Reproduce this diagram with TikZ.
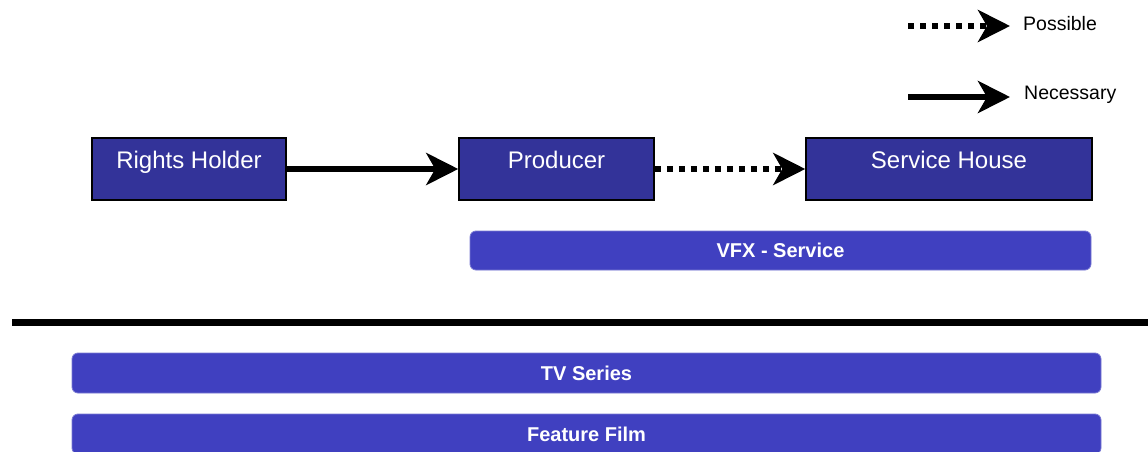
\documentclass[tikz,border=0pt]{standalone}
\usepackage{fontspec}
\setmainfont{Liberation Sans}
\usetikzlibrary{arrows.meta}
\definecolor{boxblue}{HTML}{333399}
\definecolor{barblue}{HTML}{4040C0}
\tikzset{
  actor/.style={draw=black, line width=1.5pt, fill=boxblue, text=white, inner sep=0pt,
    text height=30.5pt, text depth=31.5pt, font=\fontsize{24}{28}\selectfont},
  bar/.style={fill=barblue, draw=barblue!70!white, line width=0.8pt, rounded corners=6pt, text=white, inner sep=0pt,
    font=\bfseries\fontsize{20}{24}\selectfont},
  bigtip/.style={-{Stealth[length=32pt,width=32pt,inset=9pt]}},
  needarrow/.style={bigtip, line width=6pt},
  possarrow/.style={bigtip, line width=6pt, dash pattern=on 6pt off 6pt},
  legtext/.style={font=\fontsize{19.5}{23}\selectfont, anchor=west, inner sep=0pt},
}
\begin{document}
\begin{tikzpicture}[x=1pt,y=-1pt]
\useasboundingbox (0,0) rectangle (1148,452);
% legend
\coordinate (p1) at (908,26);
\coordinate (p2) at (1010,26);
\coordinate (n1) at (908,97);
\coordinate (n2) at (1010,97);
\draw[possarrow] (p1) -- (p2);
\draw[needarrow] (n1) -- (n2);
\node[legtext] (lp) at (1023,24) {Possible};
\node[legtext] (ln) at (1024,95) {Necessary};
% actors
\node[actor, minimum width=194pt] (rh) at (189,169) {Rights Holder};
\node[actor, minimum width=195pt] (pr) at (556.5,169) {Producer};
\node[actor, minimum width=286pt] (sh) at (949,169) {Service House};
\draw[needarrow] (rh.east) -- (pr.west);
\draw[possarrow] (pr.east) -- (sh.west);
% bars
\node[bar, minimum width=621pt, minimum height=39pt] (vfx) at (780.5,250.5) {VFX - Service};
\coordinate (l1) at (12,322);
\coordinate (l2) at (1148,322);
\draw[line width=7pt] (l1) -- (l2);
\node[bar, minimum width=1029pt, minimum height=40pt] (tv) at (586.5,373) {TV Series};
\node[bar, minimum width=1029pt, minimum height=40pt] (ff) at (586.5,434) {Feature Film};
\end{tikzpicture}
\end{document}
